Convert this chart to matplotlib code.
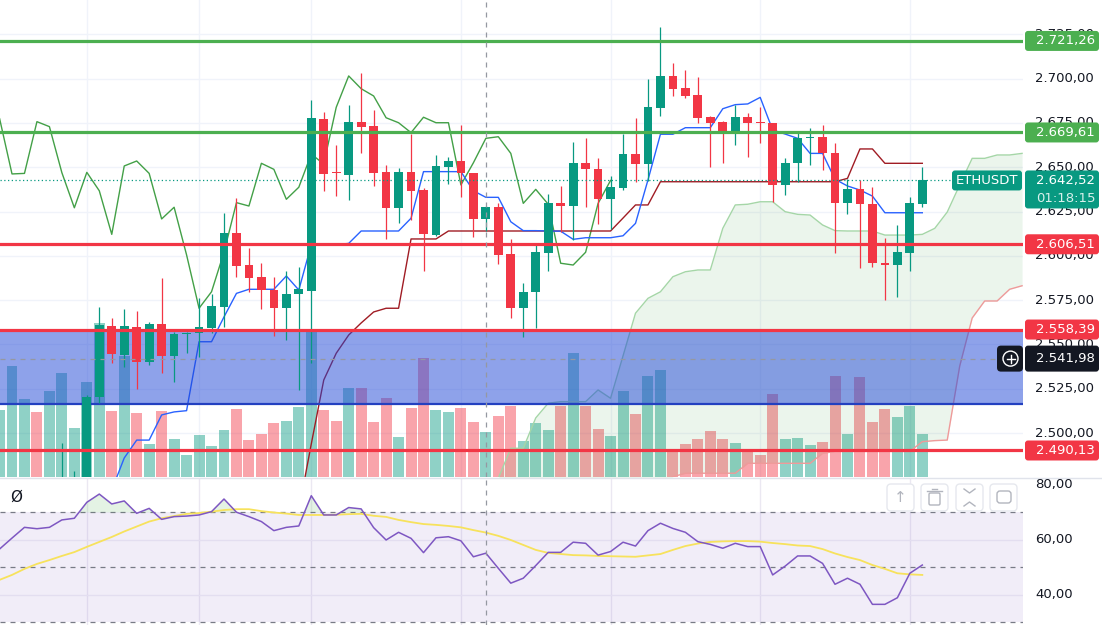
import numpy as np
import matplotlib
matplotlib.use("Agg")
import matplotlib.pyplot as plt
from matplotlib.patches import Rectangle, FancyBboxPatch, Circle

plt.rcParams['font.family'] = ['DejaVu Sans']

# ---------------------------------------------------------------- data
first_bar = -1
opens = [2440, 2448, 2458, 2462, 2455, 2460, 2466, 2468, 2520.1, 2560.6, 2543.8, 2560.0, 2540.2, 2561.3, 2543.6,
         2555.8, 2556.3, 2559.4, 2571.3, 2612.7, 2594.8, 2588.2, 2580.7, 2570.4, 2578.3, 2580.3, 2677.2, 2647.0,
         2645.6, 2675.7, 2673.3, 2647.1, 2627.1, 2647.1, 2637.1, 2611.7, 2650.3, 2653.5, 2646.5, 2620.8, 2627.4,
         2601.0, 2570.4, 2579.7, 2601.7, 2630.0, 2628.1, 2652.2, 2648.8, 2631.9, 2638.4, 2657.4, 2651.8, 2683.6,
         2701.5, 2694.5, 2690.7, 2678.2, 2675.3, 2669.5, 2678.2, 2675.4, 2674.8, 2640.0, 2652.2, 2666.3, 2666.9,
         2657.8, 2629.6, 2637.5, 2629.1, 2595.8, 2594.8, 2601.7, 2629.2]
highs = [2452, 2462, 2466, 2468, 2465, 2494.4, 2478.7, 2521.5, 2571.3, 2564.7, 2569.8, 2568.8, 2562.5, 2587.3,
         2557.2, 2557.2, 2576.0, 2578.3, 2624.0, 2632.8, 2604.2, 2596.1, 2588.2, 2591.6, 2593.8, 2687.9, 2681.3,
         2662.5, 2685.1, 2703.3, 2682.3, 2651.2, 2649.7, 2668.6, 2638.0, 2656.9, 2656.0, 2673.8, 2647.0, 2628.0,
         2629.6, 2609.5, 2584.5, 2606.7, 2634.9, 2639.4, 2664.4, 2666.3, 2655.0, 2645.2, 2668.7, 2677.9, 2699.8,
         2729.3, 2709.0, 2704.9, 2701.1, 2679.0, 2676.1, 2685.1, 2680.4, 2684.0, 2675.0, 2655.0, 2669.1, 2672.0,
         2673.8, 2663.5, 2643.2, 2642.8, 2638.7, 2609.9, 2617.4, 2633.0, 2649.9]
lows = [2436, 2445, 2452, 2450, 2450, 2456, 2460, 2462, 2516.9, 2539.3, 2537.0, 2524.7, 2538.4, 2533.7, 2529.0,
        2545.0, 2543.0, 2556.3, 2560.0, 2588.2, 2579.4, 2569.8, 2554.7, 2552.5, 2524.3, 2539.3, 2636.7, 2633.9,
        2631.5, 2658.2, 2639.6, 2609.5, 2618.7, 2620.2, 2591.6, 2611.0, 2640.3, 2633.0, 2610.8, 2614.2, 2595.4,
        2565.0, 2554.3, 2559.1, 2591.6, 2613.6, 2608.9, 2627.4, 2617.8, 2615.1, 2637.1, 2641.8, 2642.4, 2678.9,
        2690.2, 2688.9, 2674.8, 2650.3, 2652.5, 2662.5, 2655.9, 2663.8, 2630.5, 2634.3, 2641.8, 2651.2, 2648.4,
        2601.4, 2623.4, 2592.9, 2593.9, 2575.1, 2576.9, 2591.6, 2627.7]
closes = [2448, 2458, 2462, 2455, 2460, 2466, 2468, 2520.5, 2560.9, 2544.4, 2560.3, 2540.2, 2561.5, 2543.6,
          2555.9, 2556.5, 2560.0, 2571.7, 2612.7, 2594.2, 2587.6, 2580.7, 2570.4, 2578.4, 2581.1, 2677.6, 2646.2,
          2646.5, 2675.7, 2672.9, 2646.9, 2627.1, 2647.1, 2636.7, 2612.1, 2650.7, 2653.5, 2646.5, 2620.8, 2627.4,
          2600.5, 2570.4, 2579.7, 2602.0, 2630.0, 2628.1, 2652.2, 2648.8, 2631.9, 2638.7, 2657.4, 2651.8, 2683.8,
          2701.5, 2694.3, 2690.2, 2677.9, 2675.1, 2669.5, 2678.2, 2675.1, 2675.1, 2640.0, 2652.5, 2666.3, 2667.2,
          2657.8, 2629.6, 2637.5, 2629.1, 2595.8, 2594.8, 2602.0, 2629.6, 2642.52]
volumes = [67, 111, 78, 65, 86, 104, 49, 95, 154, 66, 121, 64, 33, 66, 38, 22, 42, 31, 47, 68, 37, 43, 54, 56,
           70, 146, 67, 56, 89, 89, 55, 79, 40, 69, 119, 67, 65, 69, 55, 45, 61, 71, 36, 54, 47, 71, 124, 71, 48,
           41, 86, 63, 101, 107, 26, 33, 38, 46, 38, 34, 25, 22, 83, 38, 39, 32, 35, 101, 43, 100, 55, 68, 60, 71,
           43]
volume_axis_top = 477

tenkan_start = 8
tenkan = [2467.8, 2485.9, 2496.0, 2496.0, 2510.2, 2511.9, 2512.6, 2551.5, 2551.5, 2565.5,
          2578.8, 2581.1, 2581.1, 2581.1, 2588.6, 2580.7, 2606.3, 2606.3, 2606.3, 2607.0,
          2614.0, 2614.0, 2614.0, 2614.0, 2621.2, 2647.5, 2647.5, 2647.5, 2647.5, 2636.7,
          2633.0, 2633.0, 2619.2, 2614.2, 2614.2, 2614.0, 2613.9, 2609.3, 2610.2, 2610.2,
          2610.2, 2611.3, 2618.3, 2642.8, 2668.6, 2668.6, 2672.3, 2672.3, 2672.3, 2683.0,
          2685.3, 2685.7, 2689.4, 2671.0, 2668.7, 2666.3, 2657.8, 2657.8, 2643.2, 2639.4,
          2637.1, 2633.7, 2624.3, 2624.3, 2624.3, 2624.3]
kijun_start = 23
kijun = [2456.5, 2493.8, 2529.9, 2545.0, 2555.3, 2562.1, 2568.3, 2570.4, 2570.4, 2609.5, 2609.5, 2609.5,
         2614.0, 2614.0, 2614.0, 2614.0, 2614.0, 2614.0, 2614.0, 2614.0, 2614.0, 2614.0, 2614.0, 2614.0,
         2614.0, 2614.0, 2621.3, 2628.7, 2628.7,
         2641.8, 2641.8, 2641.8, 2641.8, 2641.8, 2641.8, 2641.8, 2641.8, 2641.8, 2641.8, 2641.8, 2641.8,
         2641.8, 2641.8, 2641.8, 2643.7, 2660.3, 2660.3, 2652.2, 2652.2, 2652.2, 2652.2]
chikou_shift = 25
senkou_start = 38
senkou_a = [2465.0, 2474.5, 2491.4, 2491.4, 2508.5, 2516.8, 2517.7, 2517.7, 2517.7, 2524.3, 2519.6,
            2543.5, 2567.6, 2576.0, 2579.7, 2588.2, 2591.0, 2592.0, 2592.0, 2615.5, 2628.7, 2629.1,
            2630.5, 2630.5, 2624.9, 2623.4, 2623.0, 2617.4, 2614.2, 2614.0, 2614.0, 2614.0, 2611.7,
            2611.7, 2611.7, 2612.1, 2615.5, 2624.7, 2640.0, 2655.0, 2655.0, 2656.9, 2656.9, 2657.8]
senkou_b = [2452, 2452, 2455, 2455, 2458, 2458, 2460, 2460, 2462, 2462, 2465, 2465, 2468, 2468, 2470,
            2475.3, 2477.3, 2477.3, 2477.3, 2477.3, 2477.3, 2482.9, 2482.9, 2482.9, 2482.9, 2482.9,
            2482.9, 2488.5, 2489.6, 2489.6, 2489.6, 2489.6, 2489.6, 2489.6, 2489.6, 2495.1, 2495.7,
            2496.0, 2537.8, 2564.9, 2574.5, 2574.5, 2581.1, 2583.1]

rsi = [56.7, 60.7, 64.6, 64.1, 64.6, 67.3, 67.9, 73.7, 76.7, 73.1, 74.2, 69.7, 71.5, 67.5, 68.5, 68.7,
       69.1, 70.3, 74.9, 70.1, 68.5, 66.7, 63.4, 64.6, 65.1, 76.1, 69.1, 69.1, 71.8, 71.3, 64.5, 60.0,
       62.8, 60.6, 55.4, 60.8, 61.2, 59.7, 53.9, 55.2, 49.7, 44.3, 46.1, 50.7, 55.5, 55.5, 59.2, 58.8,
       54.5, 55.8, 59.2, 57.8, 63.4, 66.1, 64.2, 62.8, 59.4, 58.4, 57.0, 58.8, 57.6, 57.6, 47.3, 50.5,
       54.2, 54.2, 51.5, 43.9, 46.1, 43.9, 36.6, 36.6, 39.0, 47.9, 50.9]
rsi_ma = [45.5, 47.3, 49.5, 51.3, 52.7, 54.2, 55.6, 57.5, 59.3, 61.1, 63.1, 64.9, 66.7, 67.9, 68.7, 69.5,
          69.8, 70.3, 70.9, 71.2, 71.2, 70.5, 70.0, 69.6, 69.1, 69.1, 69.1, 69.2, 69.4, 69.5, 68.8, 68.4,
          67.3, 66.5, 65.8, 65.5, 65.1, 64.6, 63.6, 62.7, 61.5, 60.0, 58.2, 56.4, 55.3, 54.9, 54.5, 54.4,
          54.2, 54.1, 54.0, 53.9, 54.4, 54.9, 56.4, 57.8, 58.7, 59.3, 59.5, 59.6, 59.6, 59.4, 58.9, 58.5,
          58.0, 57.8, 56.7, 55.1, 53.8, 52.7, 50.9, 49.5, 47.9, 47.5, 47.3]

green_levels = [2721.26, 2669.61]
red_levels = [2606.51, 2558.39, 2490.13]
zone_top = 2558.39
zone_bottom = 2516.4
last_price = 2642.52
countdown = "01:18:15"
symbol = "ETHUSDT"
crosshair_price = 2541.98
crosshair_bar = 38
price_ticks = [2500, 2525, 2550, 2575, 2600, 2625, 2650, 2675, 2700, 2725]
rsi_ticks = [80, 60, 40]
grid_bars = [6, 15, 24, 36, 48, 60, 72]

# ---------------------------------------------------------------- colours
UP = '#089981'
DOWN = '#f23645'
GREEN_LVL = '#4caf50'
TEXT = '#131722'
GRID = '#f0f3fa'


def fmt(v):
    s = f"{v:,.2f}"
    return s.replace(",", "X").replace(".", ",").replace("X", ".")


# ---------------------------------------------------------------- layout
W, H = 1102, 625
fig = plt.figure(figsize=(W / 100, H / 100), dpi=100)
fig.patch.set_facecolor('white')
PLOT_R = 1023
MAIN_H = 477
RSI_TOP = 479
ax = fig.add_axes([0, (H - MAIN_H) / H, PLOT_R / W, MAIN_H / H])
rax = fig.add_axes([0, 0, PLOT_R / W, (H - RSI_TOP) / H])
xlim = (-12 / 12.47, (PLOT_R - 12) / 12.47)
for a in (ax, rax):
    a.set_xlim(*xlim)
    a.axis('off')
ax.set_ylim(2475.17, 2744.36)
rax.set_ylim(29.09, 82.18)

bars = np.arange(first_bar, first_bar + len(closes))
o = np.array(opens); h = np.array(highs); l = np.array(lows); c = np.array(closes)
up = c >= o

# grid
for t in price_ticks:
    ax.axhline(t, color=GRID, lw=1, zorder=0)
for g in grid_bars:
    ax.axvline(g, color=GRID, lw=1, zorder=0)
    rax.axvline(g, color='#ebe8f2', lw=1, zorder=0)

# volume
vcol = [(8/255, 153/255, 129/255, 0.45) if u else (242/255, 54/255, 69/255, 0.45) for u in up]
ax.bar(bars, np.array(volumes) / volume_axis_top, width=0.88, bottom=0, color=vcol,
       transform=ax.get_xaxis_transform(), zorder=1, lw=0)

# ichimoku cloud
sx = np.arange(senkou_start, senkou_start + len(senkou_a))
sa = np.array(senkou_a); sb = np.array(senkou_b)
ax.fill_between(sx, sa, sb, where=sa >= sb, interpolate=True, color='#43a047', alpha=0.1, lw=0, zorder=1.5)
ax.fill_between(sx, sa, sb, where=sa < sb, interpolate=True, color='#f44336', alpha=0.1, lw=0, zorder=1.5)
ax.plot(sx, sa, color='#a5d6a7', lw=1, zorder=2)
ax.plot(sx, sb, color='#ef9a9a', lw=1, zorder=2)
ax.plot(bars - chikou_shift, closes, color='#43a047', lw=1, zorder=2)
ax.plot(np.arange(kijun_start, kijun_start + len(kijun)), kijun, color='#a01c24', lw=1, zorder=2)
ax.plot(np.arange(tenkan_start, tenkan_start + len(tenkan)), tenkan, color='#2962ff', lw=1, zorder=2.1)

# zone rectangle
ax.add_patch(Rectangle((xlim[0] - 1, zone_bottom), 100, zone_top - zone_bottom,
                       facecolor=(31/255, 71/255, 215/255, 0.5), edgecolor='none', zorder=3))
ax.axhline(zone_bottom, color='#2340c0', lw=1.6, zorder=3.1)

# candles
ccol = [UP if u else DOWN for u in up]
ax.vlines(bars, l, h, colors=ccol, lw=0.9, zorder=4)
ax.bar(bars, np.maximum(np.abs(c - o), 0.6), bottom=np.minimum(o, c), width=0.7, color=ccol, lw=0, zorder=4.1)

# level lines
for lv in green_levels:
    ax.axhline(lv, color=GREEN_LVL, lw=2.3, zorder=5)
for lv in red_levels:
    ax.axhline(lv, color=DOWN, lw=2.3, zorder=5)

# last price dotted line
ax.axhline(last_price, xmin=0, xmax=951 / PLOT_R, color=UP, lw=0.9, ls=(0, (1, 2)), zorder=5)

# crosshair
ax.axhline(crosshair_price, color='#9598a1', lw=0.9, ls=(0, (4, 4)), zorder=6)
ax.axvline(crosshair_bar, color='#9598a1', lw=0.9, ls=(0, (4, 4)), zorder=6)
rax.axvline(crosshair_bar, color='#9598a1', lw=0.9, ls=(0, (4, 4)), zorder=6)

# RSI panel
rx = bars
r = np.array(rsi)
rax.axhspan(30, 70, color=(126/255, 87/255, 194/255, 0.1), lw=0, zorder=0)
for g in (60, 40):
    rax.axhline(g, color='#e3def0', lw=1, zorder=0.5)
for g in (70, 50, 30):
    rax.axhline(g, color='#787b86', lw=0.9, ls=(0, (4, 4)), zorder=1)
rax.fill_between(rx, r, 70, where=r > 70, interpolate=True, color='#4caf50', alpha=0.15, lw=0, zorder=1.5)
rax.plot(rx, rsi_ma, color='#f7e25c', lw=1.3, zorder=2)
rax.plot(rx, rsi, color='#7e57c2', lw=1.1, zorder=3)

# ---------------------------------------------------------------- overlay (pixel coords)
ov = fig.add_axes([0, 0, 1, 1], zorder=10)
ov.set_xlim(0, W)
ov.set_ylim(H, 0)
ov.axis('off')
ov.patch.set_alpha(0)


def py(p):
    return H - ax.transData.transform((0, p))[1]


def ry(v):
    return H - rax.transData.transform((0, v))[1]


ov.plot([0, W], [478, 478], color='#e0e3eb', lw=1, zorder=1)

FS = 9.5
for t in price_ticks:
    ov.text(1035, py(t), fmt(t), ha='left', va='center', fontsize=FS, color=TEXT, clip_on=False, zorder=1)
for t in rsi_ticks:
    ov.text(1035, ry(t), fmt(t), ha='left', va='center', fontsize=FS, color=TEXT, zorder=1)


def tag(p, color, text):
    y = py(p)
    ov.add_patch(FancyBboxPatch((1025, y - 10), 74, 20, boxstyle="round,pad=0,rounding_size=3",
                                fc=color, ec='none', zorder=2))
    ov.text(1036, y, text, ha='left', va='center', fontsize=FS, color='white', zorder=3)


for lv in green_levels:
    tag(lv, GREEN_LVL, fmt(lv))
for lv in red_levels:
    tag(lv, DOWN, fmt(lv))

# last price tag
yl = py(last_price)
ov.add_patch(FancyBboxPatch((1025, yl - 10), 74, 38, boxstyle="round,pad=0,rounding_size=3",
                            fc=UP, ec='none', zorder=2))
ov.text(1036, yl, fmt(last_price), ha='left', va='center', fontsize=FS, color='white', zorder=3)
ov.text(1036, yl + 18, countdown, ha='left', va='center', fontsize=FS, color='#d8f0ec', zorder=3)
ov.add_patch(FancyBboxPatch((952, yl - 10), 70, 20, boxstyle="round,pad=0,rounding_size=3",
                            fc=UP, ec='none', zorder=2))
ov.text(987, yl, symbol, ha='center', va='center', fontsize=FS, color='white', zorder=3)

# crosshair price label
yc = py(crosshair_price)
ov.add_patch(FancyBboxPatch((1025, yc - 13), 74, 26, boxstyle="round,pad=0,rounding_size=3",
                            fc=TEXT, ec='none', zorder=2))
ov.text(1036, yc, fmt(crosshair_price), ha='left', va='center', fontsize=FS, color='white', zorder=3)
ov.add_patch(FancyBboxPatch((997, yc - 13), 26, 26, boxstyle="round,pad=0,rounding_size=4",
                            fc=TEXT, ec='none', zorder=2))
ov.add_patch(Circle((1010.5, yc), 7.5, fc='none', ec='white', lw=1, zorder=3))
ov.plot([1006.5, 1014.5], [yc, yc], color='white', lw=1, zorder=3)
ov.plot([1010.5, 1010.5], [yc - 4, yc + 4], color='white', lw=1, zorder=3)

# RSI panel header / buttons
ov.text(10, 497, "Ø", ha='left', va='center', fontsize=11, color=TEXT, zorder=3)
ICON = '#b2b5be'
for bx in (887, 921, 956, 990):
    ov.add_patch(FancyBboxPatch((bx, 484), 27, 27, boxstyle="round,pad=0,rounding_size=4",
                                fc='white', ec='#e6e8ee', lw=1, zorder=2))
ov.text(900.5, 497.5, "↑", ha='center', va='center', fontsize=11, color=ICON, zorder=3)
ov.plot([927, 942], [491, 491], color=ICON, lw=1, zorder=3)
ov.plot([932, 937], [489, 489], color=ICON, lw=1, zorder=3)
ov.add_patch(FancyBboxPatch((929, 493), 11, 12, boxstyle="round,pad=0,rounding_size=1.5",
                            fc='none', ec=ICON, lw=1, zorder=3))
ov.plot([964, 969.5, 975], [489, 493, 489], color=ICON, lw=1, zorder=3)
ov.plot([964, 969.5, 975], [506, 502, 506], color=ICON, lw=1, zorder=3)
ov.add_patch(FancyBboxPatch((997, 491), 14, 12, boxstyle="round,pad=0,rounding_size=3",
                            fc='none', ec=ICON, lw=1, zorder=3))

fig.savefig("out.png", dpi=100, facecolor='white')
